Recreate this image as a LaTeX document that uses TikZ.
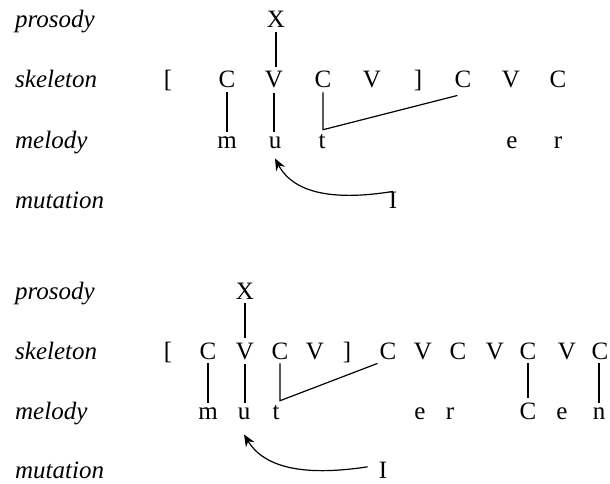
\documentclass[tikz,border=0pt]{standalone}
\usepackage{fontspec}
\setmainfont{Liberation Serif}
\usetikzlibrary{arrows.meta}
\begin{document}
\begin{tikzpicture}[x=1pt,y=-1pt,
  seg/.style={font=\fontsize{25}{30}\selectfont, inner xsep=0pt, inner ysep=4pt, anchor=base},
  trig/.style={font=\fontsize{25}{30}\selectfont, inner sep=0pt, anchor=base},
  tier/.style={font=\fontsize{25}{30}\selectfont\itshape, inner sep=0pt, anchor=base west},
  assoc/.style={line width=1.2pt},
  mut/.style={line width=1.2pt, -{Stealth[length=12pt,width=10pt,inset=4pt]}}]
\useasboundingbox (0,0) rectangle (610,484);

% ---------- top diagram ----------
\node[tier] (pA) at (15,28) {prosody};
\node[tier] (sA) at (15,88) {skeleton};
\node[tier] (mA) at (15,148) {melody};
\node[tier] (uA) at (15,208) {mutation};

\node[seg] (xA) at (276,28) {X};

\node[seg] (a0) at (168,88) {[};
\node[seg] (a1) at (227,88) {C};
\node[seg] (a2) at (274,88) {V};
\node[seg] (a3) at (323,88) {C};
\node[seg] (a4) at (372,88) {V};
\node[seg] (a5) at (418,88) {]};
\node[seg] (a6) at (463,88) {C};
\node[seg] (a7) at (511,88) {V};
\node[seg] (a8) at (558,88) {C};

\node[seg] (ma) at (227,148) {m};
\node[seg] (mu) at (275,148) {u};
\node[seg] (mt) at (322,148) {t};
\node[seg] (me) at (512,148) {e};
\node[seg] (mr) at (558,148) {r};

\node[trig] (iA) at (393,208) {I};

\draw[assoc] (xA.south) -- (xA.south |- a2.north);
\draw[assoc] (a1.south) -- (a1.south |- ma.north);
\draw[assoc] (a2.south) -- (a2.south |- mu.north);
\draw[assoc] (a3.south) -- (a3.south |- mt.north) -- ([xshift=3pt,yshift=-3pt]a6.south west);
\draw[mut] (iA.north) .. controls (340,200) and (295,196) .. ([yshift=-6pt]mu.south);

% ---------- bottom diagram ----------
\node[tier] (pB) at (15,299) {prosody};
\node[tier] (sB) at (15,359) {skeleton};
\node[tier] (mB) at (15,419) {melody};
\node[tier] (uB) at (15,478) {mutation};

\node[seg] (xB) at (245,299) {X};

\node[seg] (b0) at (168,359) {[};
\node[seg] (b1) at (208,359) {C};
\node[seg] (b2) at (245,359) {V};
\node[seg] (b3) at (280,359) {C};
\node[seg] (b4) at (315,359) {V};
\node[seg] (b5) at (347,359) {]};
\node[seg] (b6) at (388,359) {C};
\node[seg] (b7) at (423,359) {V};
\node[seg] (b8) at (458,359) {C};
\node[seg] (b9) at (495,359) {V};
\node[seg] (b10) at (528,359) {C};
\node[seg] (b11) at (567,359) {V};
\node[seg] (b12) at (600,359) {C};

\node[seg] (nm) at (208,419) {m};
\node[seg] (nu) at (244,419) {u};
\node[seg] (nt) at (276,419) {t};
\node[seg] (ne) at (420,419) {e};
\node[seg] (nr) at (450,419) {r};
\node[seg] (nc) at (528,419) {C};
\node[seg] (ne2) at (562,419) {e};
\node[seg] (nn) at (599,419) {n};

\node[trig] (iB) at (383,478) {I};

\draw[assoc] (xB.south) -- (xB.south |- b2.north);
\draw[assoc] (b1.south) -- (b1.south |- nm.north);
\draw[assoc] (b2.south) -- (b2.south |- nu.north);
\draw[assoc] (b3.south) -- (b3.south |- nt.north) -- ([xshift=-2pt]b6.south west);
\draw[assoc] (b10.south) -- (b10.south |- nc.north);
\draw[assoc] (nn.north |- b12.south) -- (nn.north);
\draw[mut] ([xshift=-11pt,yshift=3pt]iB.west) .. controls (320,474) and (268,474) .. ([yshift=-11pt]nu.south);
\end{tikzpicture}
\end{document}
